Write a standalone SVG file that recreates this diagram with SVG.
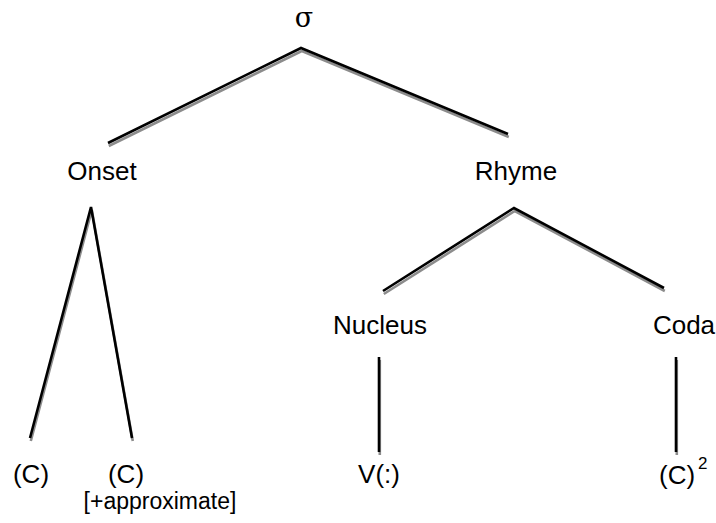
<svg xmlns="http://www.w3.org/2000/svg" width="716" height="523" viewBox="0 0 716 523">
  <defs>
    <style>
      .lbl { font-family: "Liberation Sans", Arial, sans-serif; font-size: 26px; fill: #000; text-anchor: middle; }
      .sym { font-family: "DejaVu Serif", "Liberation Serif", serif; font-size: 27px; fill: #000; text-anchor: middle; }
      .edge { fill: none; stroke: #000; stroke-width: 2.6; stroke-linejoin: miter; }
      .shadow { fill: none; stroke: #8c8c8c; stroke-width: 2.6; stroke-linejoin: miter; }
    </style>
  </defs>
  <rect width="716" height="523" fill="#fff"/>

  <!-- connectors: each branch drawn with a soft grey drop shadow beneath -->
  <g id="connectors">
    <g transform="translate(0.8,3)">
      <polyline class="shadow" points="108,143 301,48 508,134"/>
      <polyline class="shadow" points="30,438 91,207 132,438"/>
      <polyline class="shadow" points="383,291 514,208 664,288"/>
      <line class="shadow" x1="379" y1="357" x2="379" y2="452"/>
      <line class="shadow" x1="676" y1="357" x2="676" y2="452"/>
    </g>
    <polyline class="edge" points="108,143 301,48 508,134"/>
    <polyline class="edge" points="30,438 91,207 132,438"/>
    <polyline class="edge" points="383,291 514,208 664,288"/>
    <line class="edge" x1="379" y1="357" x2="379" y2="452"/>
    <line class="edge" x1="676" y1="357" x2="676" y2="452"/>
  </g>

  <g id="syllable"><text class="sym" x="304" y="27">σ</text></g>
  <g id="onset"><text class="lbl" x="102" y="180">Onset</text></g>
  <g id="rhyme"><text class="lbl" x="516" y="180">Rhyme</text></g>
  <g id="nucleus"><text class="lbl" x="380" y="334">Nucleus</text></g>
  <g id="coda"><text class="lbl" x="684" y="334">Coda</text></g>
  <g id="c1"><text class="lbl" x="31" y="483">(C)</text></g>
  <g id="c2">
    <text class="lbl" x="126" y="483">(C)</text>
    <text class="lbl" x="160" y="509" style="font-size:23px">[+approximate]</text>
  </g>
  <g id="vowel"><text class="lbl" x="379" y="483">V(:)</text></g>
  <g id="c3">
    <text class="lbl" x="659" y="484" style="text-anchor:start">(C)</text>
    <text class="lbl" x="698" y="469" style="text-anchor:start;font-size:17px">2</text>
  </g>
</svg>
